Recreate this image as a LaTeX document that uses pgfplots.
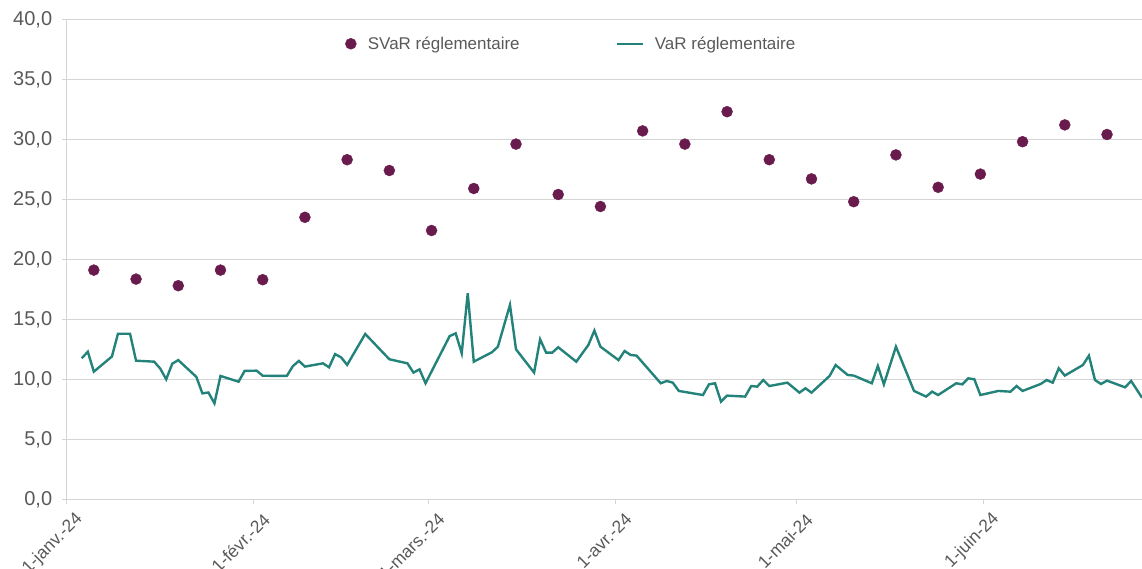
\documentclass[border=0pt]{standalone}
\usepackage{pgfplots}
\pgfplotsset{compat=1.18}
\usepackage{fontspec}
\setmainfont{Liberation Sans}
\definecolor{svar}{HTML}{6A1B4D}
\definecolor{varc}{HTML}{23837A}
\definecolor{txt}{HTML}{595959}
\definecolor{grd}{HTML}{D4D4D4}

\begin{document}
\begin{tikzpicture}
\useasboundingbox (-66.7pt,-68.7pt) rectangle (1075.3pt,499.3pt);
\begin{axis}[
  at={(0,0)}, anchor=south west,
  scale only axis, width=1075.3pt, height=480pt,
  xmin=0, xmax=178.3, ymin=0, ymax=40,
  axis x line*=bottom, axis y line*=left,
  axis line style={grd, line width=1.2pt},
  xtick={0,31,60,91,121,152},
  xticklabels={1-janv.-24,1-févr.-24,1-mars.-24,1-avr.-24,1-mai-24,1-juin-24},
  ytick={0,5,...,40},
  ymajorgrids, grid style={grd, line width=1pt},
  tick style={grd, line width=1pt},
  tick align=outside, major tick length=5pt,
  yticklabel style={/pgf/number format/fixed, /pgf/number format/fixed zerofill,
    /pgf/number format/precision=1, /pgf/number format/use comma,
    /pgf/number format/assume math mode=true,
    font=\fontsize{20}{22}\selectfont, text=txt, xshift=-6pt},
  xticklabel style={font=\fontsize{17.5}{19}\selectfont, text=txt, rotate=45, anchor=east, xshift=4pt, yshift=-18pt},
  legend columns=2,
  legend style={draw=none, fill=none, at={(0.256,0.949)}, anchor=west,
    font=\fontsize{17}{19}\selectfont, text=txt,
    /tikz/every even column/.append style={column sep=94pt}},
  legend cell align=left,
]

\addplot[only marks, mark=*, mark size=5.5pt, mark options={fill=svar, draw=svar},
  legend image code/.code={\fill[svar] (0pt,0pt) circle (5.5pt); \path[draw=none] (0pt,0pt) -- (15pt,0pt);}] coordinates {
(4.5,19.1) (11.5,18.35) (18.5,17.8) (25.5,19.1) (32.5,18.3) (39.5,23.5)
(46.5,28.3) (53.5,27.4) (60.5,22.4) (67.5,25.9) (74.5,29.6) (81.5,25.4)
(88.5,24.4) (95.5,30.7) (102.5,29.6) (109.5,32.3) (116.5,28.3) (123.5,26.7)
(130.5,24.8) (137.5,28.7) (144.5,26.0) (151.5,27.1) (158.5,29.8) (165.5,31.2)
(172.5,30.4)
};
\addlegendentry{SVaR réglementaire}

\addplot[varc, line width=2.4pt, no marks,
  legend image code/.code={\draw[varc, line width=2.4pt] (0pt,0pt) -- (26pt,0pt); \path[draw=none] (0pt,0pt) -- (36pt,0pt);}] coordinates {
(2.5,11.75) (3.5,12.3) (4.5,10.64) (7.5,11.9) (8.5,13.8) (10.5,13.8)
(11.5,11.55) (14.5,11.47) (15.5,10.9) (16.5,10.0) (17.5,11.3) (18.5,11.6)
(21.5,10.2) (22.5,8.83) (23.5,8.9) (24.5,8.0) (25.5,10.28) (28.5,9.8)
(29.5,10.7) (31.5,10.72) (32.5,10.3) (35.5,10.28) (36.5,10.28) (37.5,11.1)
(38.5,11.53) (39.5,11.06) (42.5,11.33) (43.5,11.0) (44.5,12.1) (45.5,11.83)
(46.5,11.2) (49.5,13.78) (53.5,11.67) (56.5,11.33) (57.5,10.56) (58.5,10.83)
(59.5,9.67) (63.5,13.6) (64.5,13.83) (65.5,12.17) (66.5,17.17) (67.5,11.47)
(70.5,12.25) (71.5,12.72) (73.5,16.2) (74.5,12.5) (77.5,10.56) (78.5,13.33)
(79.5,12.22) (80.5,12.22) (81.5,12.67) (84.5,11.47) (86.5,12.86) (87.5,14.06)
(88.5,12.72) (91.5,11.6) (92.5,12.36) (93.5,12.03) (94.5,11.97) (98.5,9.67)
(99.5,9.86) (100.5,9.72) (101.5,9.03) (105.5,8.69) (106.5,9.58) (107.5,9.67)
(108.5,8.14) (109.5,8.64) (112.5,8.56) (113.5,9.44) (114.5,9.39) (115.5,9.94)
(116.5,9.44) (119.5,9.72) (121.5,8.89) (122.5,9.25) (123.5,8.89) (126.5,10.28)
(127.5,11.19) (129.5,10.36) (130.5,10.31) (133.5,9.67) (134.5,11.11) (135.5,9.58)
(137.5,12.72) (140.5,9.03) (142.5,8.56) (143.5,8.97) (144.5,8.69) (147.5,9.67)
(148.5,9.58) (149.5,10.08) (150.5,10.0) (151.5,8.69) (154.5,9.03) (156.5,8.97)
(157.5,9.44) (158.5,9.03) (161.5,9.61) (162.5,9.94) (163.5,9.72) (164.5,10.92)
(165.5,10.31) (168.5,11.19) (169.5,11.97) (170.5,9.94) (171.5,9.61) (172.5,9.89)
(175.5,9.33) (176.5,9.86) (178.3,8.47)
};
\addlegendentry{VaR réglementaire}

\end{axis}
\end{tikzpicture}
\end{document}
